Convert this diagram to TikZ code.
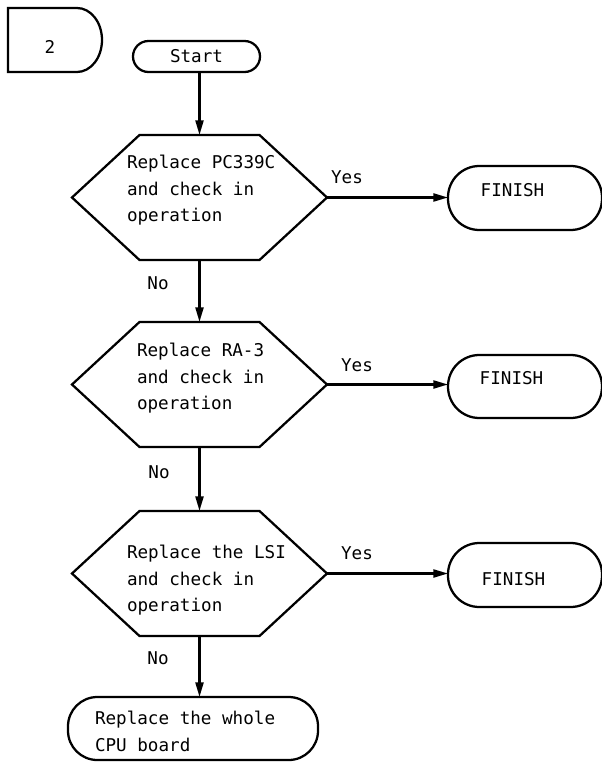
\documentclass[tikz,border=0pt]{standalone}
\usepackage{fontspec}
\setmonofont{DejaVu Sans Mono}
\usetikzlibrary{arrows.meta,calc}

% hexagonal decision box drawn around a node holding its size
\newcommand\drawhexbox[1]{%
  \draw[flow] (#1.west) -- ($(#1.north west)+(67.5,0)$) -- ($(#1.north east)+(-67.5,0)$)
    -- (#1.east) -- ($(#1.south east)+(-67.5,0)$) -- ($(#1.south west)+(67.5,0)$) -- cycle;}

\begin{document}
\begin{tikzpicture}[x=0.75pt,y=-0.75pt,
  every node/.style={font=\ttfamily\fontsize{13.2}{20}\selectfont, inner sep=0pt, outer sep=0pt},
  flow/.style={line width=1.7pt, line join=miter},
  arr/.style={flow, -{Triangle[length=11pt,width=6pt]}},
  term/.style={draw, line width=1.7pt, rounded corners=#1},
  hexcell/.style={minimum width=191.25pt, minimum height=93.75pt},
  txt/.style={align=left, anchor=north west}]

\useasboundingbox (0,0) rectangle (601,762);

% page connector "2"
\draw[flow] (77,72) -- (8,72) -- (8,8) -- (77,8)
  .. controls (90.8,8) and (102,22.3) .. (102,40)
  .. controls (102,57.7) and (90.8,72) .. (77,72);
\node (pg) at (50,47) {2};

% start terminal
\node[term=11.6pt, minimum width=95.25pt, minimum height=23.25pt] (start) at (196.5,56.5) {Start};

% decision boxes
\node[hexcell] (h1) at (199.5,197.5) {};
\node[hexcell] (h2) at (199.5,384.5) {};
\node[hexcell] (h3) at (199.5,573.5) {};
\drawhexbox{h1}
\drawhexbox{h2}
\drawhexbox{h3}
\node[txt] (t1) at (127,155) {Replace PC339C\\and check in\\operation};
\node[txt] (t2) at (137,343) {Replace RA-3\\and check in\\operation};
\node[txt] (t3) at (127,545) {Replace the LSI\\and check in\\operation};

% finish terminals
\node[term=23.5pt, minimum width=115.5pt, minimum height=48pt] (f1) at (525,198) {};
\node[term=23.5pt, minimum width=115.5pt, minimum height=47.25pt] (f2) at (525,386.5) {};
\node[term=23.5pt, minimum width=115.5pt, minimum height=48pt] (f3) at (525,575) {};
\node (ft1) at (512.5,190) {FINISH};
\node (ft2) at (511.5,378) {FINISH};
\node (ft3) at (513.5,579) {FINISH};

% last action
\node[term=22pt, minimum width=187.5pt, minimum height=47.25pt] (cpu) at (193,728.5) {};
\node[txt] (tcpu) at (95,711) {Replace the whole\\CPU board};

% connectors
\draw[arr] (h1.north |- start.south) -- (h1.north);
\draw[arr] (h1.south) -- (h2.north);
\draw[arr] (h2.south) -- (h3.north);
\draw[arr] (h3.south) -- (h3.south |- cpu.north);
\draw[arr] (h1.east) -- (h1.east -| f1.west);
\draw[arr] (h2.east) -- (h2.east -| f2.west);
\draw[arr] (h3.east) -- (h3.east -| f3.west);

% branch labels
\node (n1) at (158,283) {No};
\node (n2) at (159,472) {No};
\node (n3) at (158,658) {No};
\node (y1) at (347,177) {Yes};
\node (y2) at (357,365) {Yes};
\node (y3) at (357,553) {Yes};
\end{tikzpicture}
\end{document}
